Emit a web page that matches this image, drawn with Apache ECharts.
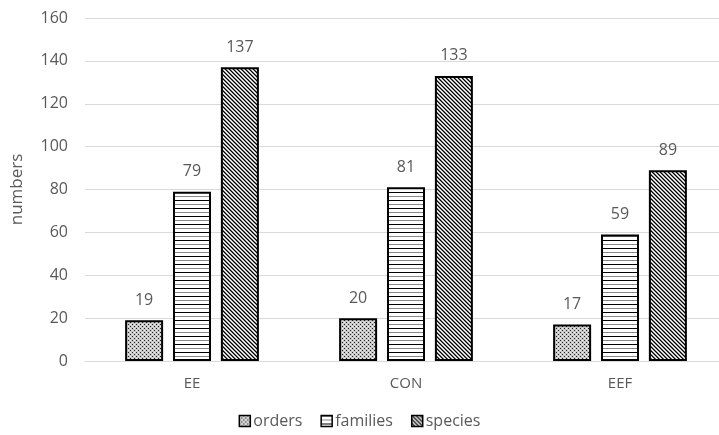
<!DOCTYPE html>
<html>
<head>
<meta charset="utf-8">
<script src="https://cdn.jsdelivr.net/npm/echarts@6/dist/echarts.min.js"></script>
<style>
  html, body { margin: 0; padding: 0; background: #fff; }
  #chart { width: 719px; height: 435px; }
</style>
</head>
<body>
<div id="chart"></div>
<script>
// Taxon counts per habitat
const categories = ['EE', 'CON', 'EEF'];
const orders = [19, 20, 17];
const families = [79, 81, 59];
const species = [137, 133, 89];
const yTicks = [0, 20, 40, 60, 80, 100, 120, 140, 160];

const FONT = '"Open Sans", "Noto Sans", sans-serif';
const TEXT = '#595959';

// Small tiled canvases used as monochrome fill patterns
function tile(size, paint) {
  const c = document.createElement('canvas');
  c.width = size; c.height = size;
  const g = c.getContext('2d');
  g.fillStyle = '#fff';
  g.fillRect(0, 0, size, size);
  paint(g);
  return { image: c, repeat: 'repeat' };
}

const dotFill = tile(4, g => {
  g.fillStyle = '#c8c8c8';
  g.fillRect(0, 0, 4, 4);
  g.fillStyle = '#222';
  g.fillRect(0, 0, 1, 1);
  g.fillRect(2, 2, 1, 1);
  g.fillStyle = '#eee';
  g.fillRect(2, 0, 1, 1);
  g.fillRect(0, 2, 1, 1);
});

const hLineFill = tile(8, g => {
  g.fillStyle = '#000';
  g.fillRect(0, 0, 8, 1);
  g.fillStyle = '#888';
  g.fillRect(0, 4, 8, 1);
});

const diagFill = tile(4, g => {
  for (let y = 0; y < 4; y++) {
    for (let x = 0; x < 4; x++) {
      const k = ((x - y) % 4 + 4) % 4;
      g.fillStyle = k === 0 ? '#000' : k === 1 ? '#6a6a6a' : k === 2 ? '#fff' : '#b4b4b4';
      g.fillRect(x, y, 1, 1);
    }
  }
});

function barSeries(name, data, fill) {
  return {
    name: name,
    type: 'bar',
    data: data,
    barWidth: 38,
    barGap: '26%',
    itemStyle: { color: fill, borderColor: '#000', borderWidth: 2 },
    label: {
      show: true,
      position: 'top',
      distance: 12,
      color: TEXT,
      fontSize: 16,
      fontFamily: FONT
    }
  };
}

const chart = echarts.init(document.getElementById('chart'));
chart.setOption({
  animation: false,
  backgroundColor: '#fff',
  textStyle: { fontFamily: FONT },
  grid: { left: 85, right: -8, top: 18, bottom: 74, containLabel: false, outerBoundsMode: 'none' },
  legend: {
    bottom: 1,
    left: 'center',
    itemWidth: 11,
    itemHeight: 11,
    itemGap: 18,
    textStyle: { color: TEXT, fontSize: 16, fontFamily: FONT, padding: [0, 0, 0, -2] },
    data: [
      { name: 'orders', icon: 'rect', itemStyle: { color: dotFill, borderColor: '#000', borderWidth: 1.5 } },
      { name: 'families', icon: 'rect', itemStyle: { color: hLineFill, borderColor: '#000', borderWidth: 1.5 } },
      { name: 'species', icon: 'rect', itemStyle: { color: diagFill, borderColor: '#000', borderWidth: 1.5 } }
    ]
  },
  xAxis: {
    type: 'category',
    data: categories,
    axisTick: { show: false },
    axisLine: { lineStyle: { color: '#d9d9d9', width: 1 } },
    axisLabel: { color: TEXT, fontSize: 15, fontFamily: FONT, margin: 15 }
  },
  yAxis: {
    type: 'value',
    min: yTicks[0],
    max: yTicks[yTicks.length - 1],
    interval: yTicks[1] - yTicks[0],
    name: 'numbers',
    nameLocation: 'middle',
    nameGap: 59,
    nameTextStyle: { color: TEXT, fontSize: 17, fontFamily: FONT },
    axisLine: { show: false },
    axisTick: { show: false },
    splitLine: { lineStyle: { color: '#d9d9d9', width: 1 } },
    axisLabel: { color: TEXT, fontSize: 16, fontFamily: FONT, margin: 17 }
  },
  series: [
    barSeries('orders', orders, dotFill),
    barSeries('families', families, hLineFill),
    barSeries('species', species, diagFill)
  ]
});
</script>
</body>
</html>
